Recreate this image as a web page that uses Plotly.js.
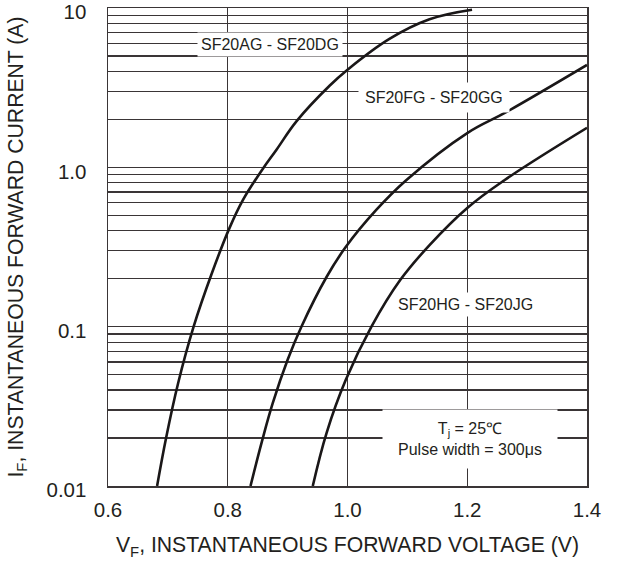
<!DOCTYPE html>
<html>
<head>
<meta charset="utf-8">
<script src="https://cdn.plot.ly/plotly-3.0.1.min.js"></script>
<style>html,body{margin:0;padding:0;background:#fff}#chart{width:621px;height:566px}</style>
</head>
<body>
<div id="chart"></div>
<script>
// Curve data: forward voltage (V) vs forward current (A)
const vfAD = [0.682, 0.697, 0.717, 0.743, 0.773, 0.803, 0.825, 0.857, 0.882, 0.915, 0.97, 1.0, 1.07, 1.137, 1.208];
const ifAD = [0.01, 0.020, 0.044, 0.1, 0.214, 0.417, 0.62, 0.96, 1.30, 1.95, 3.25, 4.1, 6.4, 8.5, 9.75];
const vfFG = [0.838, 0.857, 0.875, 0.90, 0.923, 0.965, 0.997, 1.048, 1.098, 1.2, 1.265, 1.4];
const ifFG = [0.01, 0.019, 0.033, 0.062, 0.1, 0.205, 0.316, 0.54, 0.83, 1.64, 2.22, 4.39];
const vfHJ = [0.942, 0.965, 0.997, 1.04, 1.088, 1.137, 1.2, 1.262, 1.4];
const ifHJ = [0.01, 0.0215, 0.0462, 0.1, 0.196, 0.325, 0.556, 0.83, 1.77];

const seriesNames = ["SF20AG - SF20DG", "SF20FG - SF20GG", "SF20HG - SF20JG"];
const xTicks = [0.6, 0.8, 1.0, 1.2, 1.4];
const xTickText = ["0.6", "0.8", "1.0", "1.2", "1.4"];
const yDecades = [0.01, 0.1, 1, 10];
const yDecadeText = ["0.01", "0.1", "1.0", "10"];
const noteText = "T<sub>j</sub> = 25℃<br>Pulse width = 300μs";

// Minor log grid: 2..9 multiples of each decade
const yMinorVals = [];
yDecades.slice(0, -1).forEach(d => {
  for (let m = 2; m <= 9; m++) yMinorVals.push(d * m);
});

const lineStyle = {color: "#1a1718", width: 2.6, shape: "spline", smoothing: 1.1};
const traces = [
  {x: vfAD, y: ifAD, name: seriesNames[0]},
  {x: vfFG, y: ifFG, name: seriesNames[1]},
  {x: vfHJ, y: ifHJ, name: seriesNames[2]}
].map(t => Object.assign(t, {type: "scatter", mode: "lines", line: lineStyle, hoverinfo: "skip"}));

const font = "'Liberation Sans', Arial, Helvetica, sans-serif";
const textColor = "#231f20";
const gridColor = "#3a3536";

function label(text, x, y, pad, extra) {
  return Object.assign({text: text, xref: "paper", yref: "paper", x: x, y: y,
    xanchor: "center", yanchor: "middle", showarrow: false,
    bgcolor: "#fff", borderpad: pad, font: {size: 16, family: font, color: textColor}}, extra || {});
}

const layout = {
  width: 621, height: 566,
  margin: {l: 108, r: 34, t: 8, b: 80},
  paper_bgcolor: "#fff", plot_bgcolor: "#fff",
  showlegend: false,
  font: {family: font, color: textColor, size: 20},
  xaxis: {
    range: [0.6, 1.4], tickvals: xTicks, ticktext: xTickText,
    showgrid: true, gridcolor: gridColor, gridwidth: 1.2,
    showline: true, linecolor: gridColor, linewidth: 1.5, mirror: true,
    ticks: "", ticklabelstandoff: 5, zeroline: false,
    tickfont: {size: 20.5, family: font, color: textColor},
    title: {text: "V<sub>F</sub>, INSTANTANEOUS FORWARD VOLTAGE (V)", font: {size: 21.2, family: font, color: textColor}, standoff: 17}
  },
  yaxis: {
    type: "log", range: [-2, 1], tickvals: yDecades, ticktext: yDecadeText,
    showgrid: true, gridcolor: gridColor, gridwidth: 1.2,
    minor: {tickmode: "array", tickvals: yMinorVals, showgrid: true, gridcolor: gridColor, gridwidth: 1.2, ticks: ""},
    showline: true, linecolor: gridColor, linewidth: 1.5, mirror: true,
    ticks: "", ticklabelstandoff: 16, ticklabelshift: 4, ticklabeloverflow: "allow", zeroline: false,
    tickfont: {size: 20.5, family: font, color: textColor},
    title: {text: "I<sub>F</sub>, INSTANTANEOUS FORWARD CURRENT (A)", font: {size: 21.2, family: font, color: textColor}, standoff: 17}
  },
  annotations: [
    label(seriesNames[0], 0.338, 0.923, 3),
    label(seriesNames[1], 0.681, 0.812, 6),
    label(seriesNames[2], 0.747, 0.379, 3),
    label(noteText, 0.756, 0.098, 4, {width: 166, height: 50, align: "center"})
  ]
};

Plotly.newPlot("chart", traces, layout, {displayModeBar: false, staticPlot: true});
</script>
</body>
</html>
